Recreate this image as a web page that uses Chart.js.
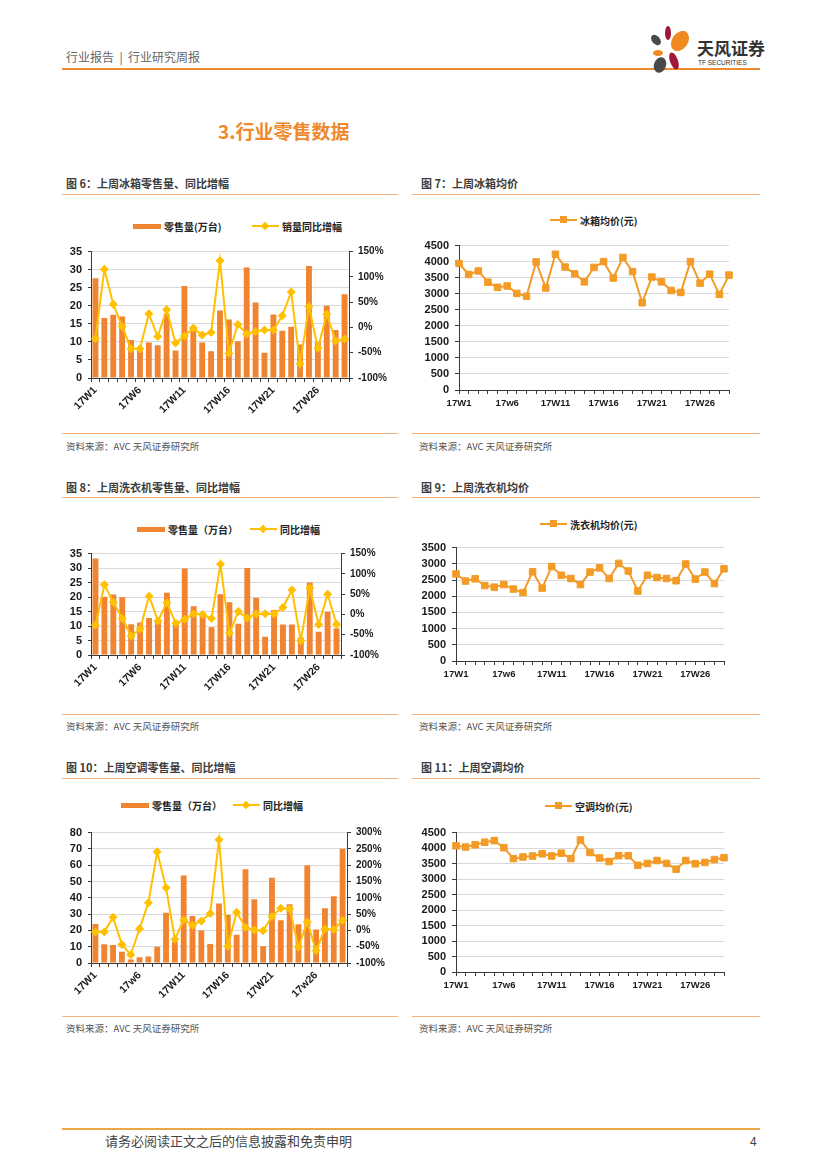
<!DOCTYPE html>
<html>
<head>
<meta charset="utf-8">
<script src="https://cdn.jsdelivr.net/npm/chart.js@4.4.0/dist/chart.umd.min.js"></script>
<style>
body { margin: 0; width: 827px; height: 1169px; position: relative; background: #fff; font-family: "Noto Sans CJK SC", sans-serif; overflow: hidden; }
.t { position: absolute; white-space: nowrap; line-height: 14px; }
.hr { position: absolute; height: 1px; background: #F6B27A; }
.box { position: absolute; }
.cap { font-size: 11px; font-weight: bold; color: #3c3c3c; }
.src { font-size: 9.5px; color: #555; }
.lg { position: absolute; display: flex; align-items: center; height: 14px; font-size: 10px; font-weight: bold; color: #222; white-space: nowrap; }
.kbar { width: 28px; height: 5px; background: #F08430; margin-right: 3px; }
.kline { position: relative; width: 27px; height: 2px; margin-right: 3px; }
.kline.y { background: #FFC000; }
.kline.o { background: #F39B26; }
.dia { position: absolute; left: 10px; top: -2.5px; width: 6px; height: 6px; background: #FFC000; transform: rotate(45deg); }
.sq { position: absolute; left: 10px; top: -3px; width: 7px; height: 7px; background: #F39B26; }
</style>
</head>
<body>

<!-- header -->
<div class="t" style="left:66px;top:50px;font-size:12px;color:#666;">行业报告 &nbsp;|&nbsp; 行业研究周报</div>
<div class="box" style="left:62px;top:68px;width:698px;height:2px;background:#EE8B2F;"></div>
<svg class="box" style="left:648px;top:25px;" width="46" height="48" viewBox="0 0 46 48">
  <ellipse cx="20" cy="8" rx="3" ry="7" fill="#A0173B"/>
  <ellipse cx="32" cy="16" rx="8" ry="11" fill="#F08A1E" transform="rotate(35 32 16)"/>
  <ellipse cx="8" cy="15" rx="4" ry="6" fill="#4a4a4a" transform="rotate(-40 8 15)"/>
  <ellipse cx="10" cy="28" rx="5" ry="3" fill="#F08A1E"/>
  <ellipse cx="12" cy="40" rx="6" ry="8" fill="#4a4a4a" transform="rotate(20 12 40)"/>
  <ellipse cx="26" cy="36" rx="4" ry="9" fill="#A0173B" transform="rotate(-20 26 36)"/>
</svg>
<div class="t" style="left:697px;top:38px;font-size:17px;line-height:20px;font-weight:bold;color:#333;">天风证券</div>
<div class="t" style="left:698px;top:58px;font-size:6.5px;line-height:9px;color:#333;font-family:'Liberation Sans';">TF SECURITIES</div>

<div class="t" style="left:218px;top:119px;font-size:19px;line-height:24px;font-weight:bold;color:#F0892E;">3.行业零售数据</div>

<!-- row 1 -->
<div class="t cap" style="left:66px;top:176px;">图 6：上周冰箱零售量、同比增幅</div>
<div class="t cap" style="left:421px;top:176px;">图 7：上周冰箱均价</div>
<div class="hr" style="left:62px;top:194px;width:336px;"></div>
<div class="hr" style="left:412px;top:194px;width:348px;"></div>
<div class="lg" style="left:133px;top:219px;"><span class="kbar"></span><span>零售量(万台)</span></div>
<div class="lg" style="left:252px;top:219px;"><span class="kline y"><i class="dia"></i></span><span>销量同比增幅</span></div>
<div class="lg" style="left:550px;top:213px;"><span class="kline o"><i class="sq"></i></span><span>冰箱均价(元)</span></div>
<div class="box" style="left:62px;top:239px;width:338px;height:179px;"><canvas id="c6"></canvas></div>
<div class="box" style="left:412px;top:233px;width:348px;height:183px;"><canvas id="c7"></canvas></div>
<div class="hr" style="left:62px;top:433px;width:336px;"></div>
<div class="hr" style="left:412px;top:433px;width:348px;"></div>
<div class="t src" style="left:66px;top:439px;">资料来源：AVC 天风证券研究所</div>
<div class="t src" style="left:419px;top:439px;">资料来源：AVC 天风证券研究所</div>

<!-- row 2 -->
<div class="t cap" style="left:66px;top:480px;">图 8：上周洗衣机零售量、同比增幅</div>
<div class="t cap" style="left:421px;top:480px;">图 9：上周洗衣机均价</div>
<div class="hr" style="left:62px;top:497px;width:336px;"></div>
<div class="hr" style="left:412px;top:497px;width:348px;"></div>
<div class="lg" style="left:137px;top:522px;"><span class="kbar"></span><span>零售量（万台）</span></div>
<div class="lg" style="left:250px;top:522px;"><span class="kline y"><i class="dia"></i></span><span>同比增幅</span></div>
<div class="lg" style="left:540px;top:517px;"><span class="kline o"><i class="sq"></i></span><span>洗衣机均价(元)</span></div>
<div class="box" style="left:62px;top:541px;width:338px;height:154px;"><canvas id="c8"></canvas></div>
<div class="box" style="left:412px;top:535px;width:348px;height:152px;"><canvas id="c9"></canvas></div>
<div class="hr" style="left:62px;top:714px;width:336px;"></div>
<div class="hr" style="left:412px;top:714px;width:348px;"></div>
<div class="t src" style="left:66px;top:719px;">资料来源：AVC 天风证券研究所</div>
<div class="t src" style="left:419px;top:719px;">资料来源：AVC 天风证券研究所</div>

<!-- row 3 -->
<div class="t cap" style="left:66px;top:760px;">图 10：上周空调零售量、同比增幅</div>
<div class="t cap" style="left:421px;top:760px;">图 11：上周空调均价</div>
<div class="hr" style="left:62px;top:778px;width:336px;"></div>
<div class="hr" style="left:412px;top:778px;width:348px;"></div>
<div class="lg" style="left:121px;top:798px;"><span class="kbar"></span><span>零售量（万台）</span></div>
<div class="lg" style="left:233px;top:798px;"><span class="kline y"><i class="dia"></i></span><span>同比增幅</span></div>
<div class="lg" style="left:545px;top:799px;"><span class="kline o"><i class="sq"></i></span><span>空调均价(元)</span></div>
<div class="box" style="left:62px;top:820px;width:338px;height:183px;"><canvas id="c10"></canvas></div>
<div class="box" style="left:412px;top:820px;width:348px;height:178px;"><canvas id="c11"></canvas></div>
<div class="hr" style="left:62px;top:1016px;width:336px;"></div>
<div class="hr" style="left:412px;top:1016px;width:348px;"></div>
<div class="t src" style="left:66px;top:1021px;">资料来源：AVC 天风证券研究所</div>
<div class="t src" style="left:419px;top:1021px;">资料来源：AVC 天风证券研究所</div>

<!-- footer -->
<div class="box" style="left:62px;top:1128px;width:698px;height:2px;background:#EFA646;"></div>
<div class="t" style="left:105px;top:1133px;font-size:13px;line-height:16px;color:#444;">请务必阅读正文之后的信息披露和免责申明</div>
<div class="t" style="left:750px;top:1133px;font-size:12px;line-height:16px;color:#444;">4</div>

<script>
// =====================================
// DATA
// =====================================

const weeks = ["17W1","17W2","17W3","17W4","17W5","17W6","17W7","17W8","17W9","17W10",
    "17W11","17W12","17W13","17W14","17W15","17W16","17W17","17W18","17W19","17W20",
    "17W21","17W22","17W23","17W24","17W25","17W26","17W27","17W28","17W29"];

// tick labels as printed under each chart (every 5th week)
const ticksFridgeSales = ["17W1","17W6","17W11","17W16","17W21","17W26"];
const ticksFridgePrice = ["17W1","17w6","17W11","17W16","17W21","17W26"];
const ticksWasherSales = ["17W1","17W6","17W11","17W16","17W21","17W26"];
const ticksWasherPrice = ["17W1","17w6","17W11","17W16","17W21","17W26"];
const ticksAcSales = ["17W1","17w6","17W11","17W16","17W21","17w26"];
const ticksAcPrice = ["17W1","17w6","17W11","17W16","17W21","17W26"];

// 冰箱
const fridgeSales = [27.6, 16.6, 17.5, 17.0, 10.5, 8.5, 9.8, 9.1, 17.8, 7.6,
    25.5, 14.0, 9.8, 7.4, 18.7, 16.2, 10.2, 30.6, 20.9, 7.0,
    17.6, 13.1, 14.2, 9.3, 31.0, 10.0, 20.0, 13.3, 23.2];
const fridgeYoY = [-22, 115, 46, 2, -42, -42, 27, -18, 35, -31,
    -17, -1, -15, -10, 132, -51, 6, -13, -8, -5,
    -5, 23, 70, -72, 41, -41, 26, -27, -23];
const fridgePrice = [3945, 3600, 3710, 3360, 3200, 3240, 3010, 2920, 3990, 3180,
    4230, 3830, 3620, 3370, 3820, 4000, 3490, 4130, 3690, 2720,
    3520, 3370, 3100, 3040, 4000, 3330, 3610, 2980, 3580];

// 洗衣机 (零售量 to 17W28)
const washerSales = [33.3, 20.1, 20.9, 19.9, 10.6, 11.2, 12.8, 12.0, 21.5, 11.0,
    29.9, 16.8, 13.5, 9.6, 21.0, 18.2, 10.8, 30.0, 19.8, 6.3,
    15.5, 10.5, 10.5, 6.0, 25.0, 8.0, 14.9, 9.2];
const washerYoY = [-26, 73, 30, -10, -53, -36, 45, -16, 29, -22,
    -12, 2, 0, -10, 124, -46, 7, -9, 1, 2,
    1, 17, 60, -65, 65, -25, 50, -24];
const washerPrice = [2686, 2468, 2537, 2329, 2280, 2359, 2220, 2111, 2755, 2250,
    2914, 2646, 2547, 2359, 2745, 2874, 2547, 3013, 2775, 2161,
    2646, 2577, 2547, 2478, 2993, 2527, 2745, 2389, 2844];

// 空调
const acSales = [23.9, 11.5, 11.1, 6.9, 2.2, 3.6, 4.0, 9.9, 30.8, 13.0,
    53.7, 28.8, 20.0, 11.7, 36.5, 29.4, 17.4, 57.5, 39.1, 10.3,
    52.3, 26.3, 36.1, 23.7, 59.9, 20.5, 33.6, 40.9, 70.1];
const acYoY = [-5, -5, 40, -43, -75, 5, 85, 241, 131, -27,
    32, 16, 29, 52, 278, -49, 56, 9, 1, -1,
    43, 68, 66, -51, 26, -62, 4, 3, 31];
const acPrice = [4075, 4034, 4106, 4189, 4241, 4013, 3660, 3712, 3743, 3816,
    3743, 3837, 3660, 4262, 3857, 3681, 3567, 3754, 3754, 3443,
    3505, 3598, 3505, 3318, 3598, 3494, 3536, 3629, 3691];

// =====================================
// STYLE
// =====================================

const ORANGE = "#F08430";
const YELLOW = "#FFC000";
const PRICE = "#F39B26";
const AXIS = "#3a3a3a";
const GRID = "#D9D9D9";

Chart.defaults.font.family = '"Liberation Sans", Arial, sans-serif';
Chart.defaults.color = "#1a1a1a";

// =====================================
// 零售量 + 同比 (bar + line)
// =====================================

function salesChart(id, sales, yoy, xTicks, leftMax, leftStep, rightMin, rightMax, rightW) {

    const labels = weeks.slice(0, sales.length);

    return new Chart(document.getElementById(id), {
        type: "bar",
        data: {
            labels: labels,
            datasets: [
                {
                    type: "line",
                    data: yoy,
                    yAxisID: "y2",
                    borderColor: YELLOW,
                    backgroundColor: YELLOW,
                    borderWidth: 2,
                    pointStyle: "rectRot",
                    pointRadius: 4.5,
                    pointBorderWidth: 0,
                    tension: 0,
                    order: 0
                },
                {
                    type: "bar",
                    data: sales,
                    yAxisID: "y",
                    backgroundColor: ORANGE,
                    barPercentage: 0.66,
                    categoryPercentage: 1,
                    order: 1
                }
            ]
        },
        options: {
            responsive: true,
            maintainAspectRatio: false,
            animation: false,
            layout: { padding: { top: 8 } },
            plugins: { legend: { display: false }, tooltip: { enabled: false } },
            scales: {
                x: {
                    grid: { offset: true, drawOnChartArea: false, tickLength: 4, tickColor: AXIS },
                    border: { color: AXIS },
                    ticks: {
                        autoSkip: false,
                        minRotation: 45,
                        maxRotation: 45,
                        padding: 2,
                        font: { size: 10.5, weight: "bold" },
                        callback: (v, i) => i % 5 === 0 ? xTicks[i / 5] : ""
                    },
                    afterFit: s => { s.height = 40; }
                },
                y: {
                    position: "left",
                    min: 0,
                    max: leftMax,
                    grid: { color: GRID, tickLength: 3, tickColor: AXIS },
                    border: { color: AXIS },
                    ticks: {
                        autoSkip: false,
                        stepSize: leftStep,
                        padding: 6,
                        font: { size: 11, weight: "bold" },
                        callback: v => String(v)
                    },
                    afterFit: s => { s.width = 29; }
                },
                y2: {
                    position: "right",
                    min: rightMin,
                    max: rightMax,
                    grid: { drawOnChartArea: false, tickLength: 4, tickColor: AXIS },
                    border: { color: AXIS },
                    ticks: {
                        autoSkip: false,
                        stepSize: 50,
                        padding: 5,
                        font: { size: 10, weight: "bold" },
                        callback: v => v + "%"
                    },
                    afterFit: s => { s.width = rightW; }
                }
            }
        }
    });
}

// =====================================
// 均价 (line)
// =====================================

function priceChart(id, prices, xTicks, yMax, leftW, padRight) {

    return new Chart(document.getElementById(id), {
        type: "line",
        data: {
            labels: weeks.slice(0, prices.length),
            datasets: [{
                data: prices,
                borderColor: PRICE,
                backgroundColor: PRICE,
                borderWidth: 2,
                pointStyle: "rect",
                pointRadius: 4.6,
                pointBorderWidth: 1,
                tension: 0
            }]
        },
        options: {
            responsive: true,
            maintainAspectRatio: false,
            animation: false,
            layout: { padding: { top: 8, right: padRight } },
            plugins: { legend: { display: false }, tooltip: { enabled: false } },
            scales: {
                x: {
                    offset: false,
                    grid: { offset: false, drawOnChartArea: false, tickLength: 4, tickColor: AXIS },
                    border: { color: AXIS },
                    ticks: {
                        autoSkip: false,
                        minRotation: 0,
                        maxRotation: 0,
                        padding: 4,
                        font: { size: 9.5, weight: "bold" },
                        callback: (v, i) => i % 5 === 0 ? xTicks[i / 5] : ""
                    },
                    afterFit: s => { s.height = 26; }
                },
                y: {
                    min: 0,
                    max: yMax,
                    grid: { color: GRID, tickLength: 4, tickColor: AXIS },
                    border: { color: AXIS },
                    ticks: {
                        autoSkip: false,
                        stepSize: 500,
                        padding: 6,
                        font: { size: 11, weight: "bold" },
                        callback: v => String(v)
                    },
                    afterFit: s => { s.width = leftW; }
                }
            }
        }
    });
}

// =====================================
// DRAW
// =====================================

salesChart("c6", fridgeSales, fridgeYoY, ticksFridgeSales, 35, 5, -100, 150, 51);
priceChart("c7", fridgePrice, ticksFridgePrice, 4500, 47, 31);

salesChart("c8", washerSales, washerYoY, ticksWasherSales, 35, 5, -100, 150, 59);
priceChart("c9", washerPrice, ticksWasherPrice, 3500, 44, 36);

salesChart("c10", acSales, acYoY, ticksAcSales, 80, 10, -100, 300, 53);
priceChart("c11", acPrice, ticksAcPrice, 4500, 44, 36);
</script>
</body>
</html>
